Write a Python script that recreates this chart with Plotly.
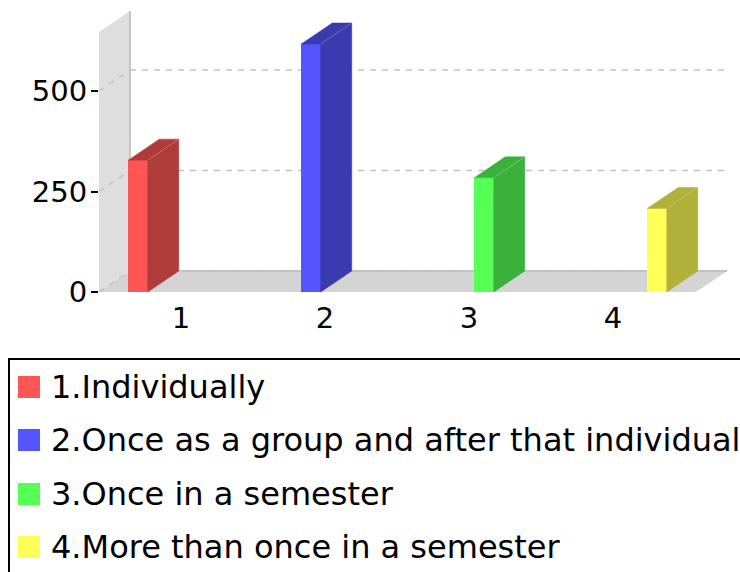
import plotly.graph_objects as go

categories = [1, 2, 3, 4]
values = [328, 617, 284, 208]
series_names = ["1.Individually", "2.Once as a group and after that individual",
                "3.Once in a semester", "4.More than once in a semester"]
front_colors = ["#ff5555", "#5555ff", "#55ff55", "#ffff55"]
side_colors = ["#b03b3b", "#3b3bb0", "#3bb03b", "#b0b03b"]
y_ticks = [0, 250, 500]
x_label_pos = [1.2486, 2.081, 2.913, 3.746]
x_labels = ["1", "2", "3", "4"]

W, H = 740, 572
LEFT, BOTTOM_PX = 99, 292
PX_X, PX_Y = 173.0, 0.402
X0 = 1 - (138 - LEFT) / PX_X
X1 = 1 + (W - 138) / PX_X
Y1 = BOTTOM_PX / PX_Y
BW = 19.5 / PX_X
DX, DY = 31 / PX_X, 21 / PX_Y
WALL_TOP = 260 / PX_Y
FLOOR_END = 1 + (696 - 138) / PX_X
FONT = "DejaVu Sans"


def px(x):
    return (x - LEFT) / (W - LEFT)


def py(y):
    return 1 - y / BOTTOM_PX


fig = go.Figure()
fig.add_trace(go.Bar(x=categories, y=values, width=BW, marker=dict(color=front_colors, line_width=0),
                     hoverinfo="skip", showlegend=False))
for c, v, col in zip(categories, values, side_colors):
    l, r = c - BW / 2, c + BW / 2
    fig.add_trace(go.Scatter(x=[r, r + DX, r + DX, r, r], y=[0, DY, v + DY, v, 0], mode="lines", fill="toself",
                             fillcolor=col, line=dict(color=col, width=0.5), hoverinfo="skip", showlegend=False))
    fig.add_trace(go.Scatter(x=[l, l + DX, r + DX, r, l], y=[v, v + DY, v + DY, v, v], mode="lines", fill="toself",
                             fillcolor=col, line=dict(color=col, width=0.5), hoverinfo="skip", showlegend=False))
    fig.add_trace(go.Scatter(x=[r, r + DX], y=[v, v + DY], mode="lines",
                             line=dict(color="rgba(255,255,255,0.2)", width=1), hoverinfo="skip", showlegend=False))

shapes = []
# floor
shapes.append(dict(type="path", xref="x", yref="y", layer="below", line_width=0, fillcolor="#d4d4d4",
                   path=f"M{X0},0 L{X0 + DX},{DY} L{FLOOR_END + DX},{DY} L{FLOOR_END},0 Z"))
# wall
shapes.append(dict(type="path", xref="x", yref="y", layer="below", line_width=0, fillcolor="#dedede",
                   path=f"M{X0},0 L{X0 + DX},{DY} L{X0 + DX},{WALL_TOP + DY} L{X0},{WALL_TOP} Z"))
shapes.append(dict(type="line", xref="x", yref="y", layer="below", x0=X0 + DX, x1=X0 + DX, y0=DY, y1=WALL_TOP + DY,
                   line=dict(color="#c6c6c6", width=2)))
shapes.append(dict(type="line", xref="x", yref="y", layer="below", x0=X0 + DX, x1=FLOOR_END + DX, y0=DY, y1=DY,
                   line=dict(color="#c0c0c4", width=2)))
# grid
for t in y_ticks:
    for a, b, c_, d in [(X0, t, X0 + DX, t + DY), (X0 + DX, t + DY, FLOOR_END + DX, t + DY)]:
        shapes.append(dict(type="line", xref="x", yref="y", layer="below", x0=a, y0=b, x1=c_, y1=d,
                           line=dict(color="#c4c4c4", width=1.5, dash="6px,6px")))
# legend frame
shapes.append(dict(type="path", xref="paper", yref="paper", layer="above", line=dict(color="black", width=2),
                   path=f"M{px(742)},{py(359)} L{px(9)},{py(359)} L{px(9)},{py(574)}"))
annotations = []
for yc, name, col in zip([387, 440, 494, 547], series_names, front_colors):
    shapes.append(dict(type="rect", xref="paper", yref="paper", layer="above", line_width=0, fillcolor=col,
                       x0=px(18), x1=px(40), y0=py(yc - 11), y1=py(yc + 11)))
    annotations.append(dict(xref="paper", yref="paper", x=px(51), y=py(yc), text=name, showarrow=False,
                            xanchor="left", yanchor="middle", xshift=-2,
                            font=dict(family=FONT, size=32, color="black")))

fig.update_layout(
    width=W, height=H, autosize=False,
    margin=dict(l=LEFT, r=0, t=0, b=H - BOTTOM_PX, pad=0),
    paper_bgcolor="white", plot_bgcolor="white", showlegend=False, hovermode=False,
    shapes=shapes, annotations=annotations, bargap=0,
    xaxis=dict(range=[X0, X1], tickmode="array", tickvals=x_label_pos, ticktext=x_labels, ticks="",
               showgrid=False, zeroline=False, showline=False, ticklabelstandoff=6,
               tickfont=dict(family=FONT, size=29, color="black")),
    yaxis=dict(range=[0, Y1], tickmode="array", tickvals=y_ticks, ticks="outside", ticklen=7, tickwidth=2,
               tickcolor="black", showgrid=False, zeroline=False, showline=False, ticklabelstandoff=-2,
               tickfont=dict(family=FONT, size=29, color="black")),
)
fig.write_html("out.html", config={"displayModeBar": False},
               post_script="document.documentElement.style.overflow='hidden';document.body.style.margin='0';")
